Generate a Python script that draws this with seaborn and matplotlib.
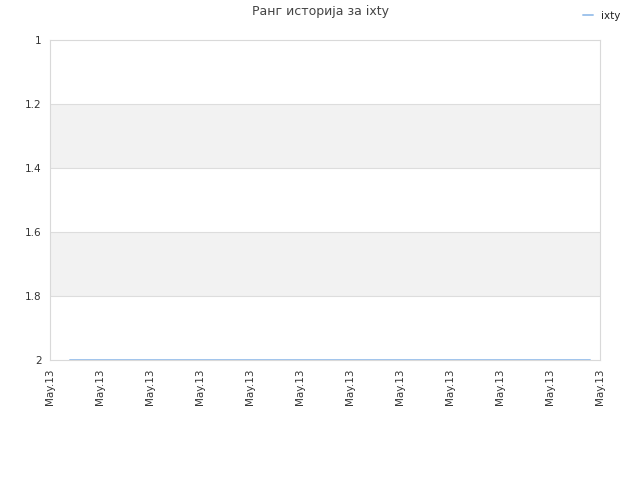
import matplotlib

matplotlib.use("Agg")
import matplotlib.pyplot as plt
import pandas as pd
import seaborn as sns

# rank history data (x in tick units, all dates fall on May.13)
sample_pos = [0.4, 10.8]
rank = [2, 2]
player = "ixty"
tick_labels = ["May.13"] * 12
y_ticks = [1, 1.2, 1.4, 1.6, 1.8, 2]

df = pd.DataFrame({"pos": sample_pos, "rank": rank, "player": player})

sns.set_style("white")
plt.rcParams["font.family"] = ["DejaVu Sans"]

fig = plt.figure(figsize=(6.4, 4.8), dpi=100)
ax = fig.add_axes([50 / 640, 0.25, 550 / 640, 320 / 480])

for lo, hi in [(1.2, 1.4), (1.6, 1.8)]:
    ax.axhspan(lo, hi, color="#f2f2f2", zorder=0, lw=0)
for y in y_ticks[1:-1]:
    ax.axhline(y, color="#dddddd", lw=0.8, zorder=1)

sns.lineplot(data=df, x="pos", y="rank", hue="player", palette=["#a0c4ec"],
             lw=1.4, ax=ax, zorder=3)

ax.set_xlim(0, 11)
ax.set_ylim(2, 1)
ax.set_yticks(y_ticks)
ax.set_yticklabels(["1", "1.2", "1.4", "1.6", "1.8", "2"])
ax.set_xticks(range(len(tick_labels)))
ax.set_xticklabels(tick_labels, rotation=90)
ax.tick_params(axis="both", length=0, labelsize=7.5, colors="#333333", pad=6)
ax.set_xlabel("")
ax.set_ylabel("")
for s in ax.spines.values():
    s.set_color("#d9d9d9")
    s.set_linewidth(0.8)

ax.legend(loc="upper right", bbox_to_anchor=(1.055, 1.12), frameon=False,
          fontsize=7.5, handlelength=1.0, labelcolor="#222222")
fig.suptitle("Ранг историја за ixty", x=0.5, y=0.99, fontsize=9, color="#444444")

fig.savefig("out.png", dpi=100)
